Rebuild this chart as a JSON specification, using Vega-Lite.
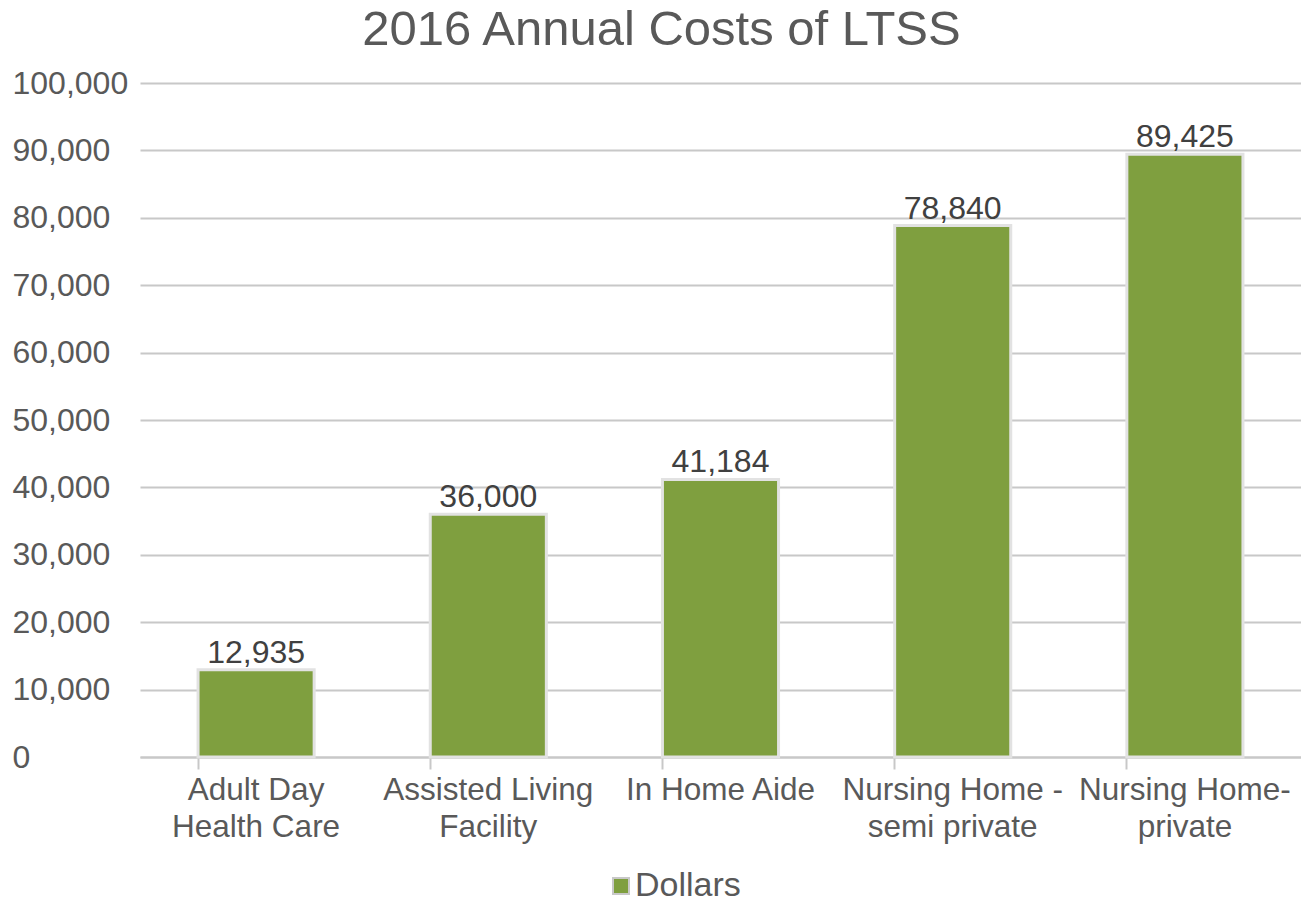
{
  "$schema": "https://vega.github.io/schema/vega-lite/v6.json",
  "width": 1161,
  "height": 674,
  "autosize": {"type": "none"},
  "padding": {"left": 140, "top": 83, "right": 0, "bottom": 146},
  "background": "white",
  "config": {
    "font": "Liberation Sans",
    "view": {"stroke": null}
  },
  "title": {
    "text": "2016 Annual Costs of LTSS",
    "fontSize": 49,
    "fontWeight": "normal",
    "color": "#595959",
    "anchor": "middle",
    "dx": -59,
    "offset": 12
  },
  "data": {
    "values": [
      {"category": "Adult Day Health Care", "series": "Dollars", "dollars": 12935},
      {"category": "Assisted Living Facility", "series": "Dollars", "dollars": 36000},
      {"category": "In Home Aide", "series": "Dollars", "dollars": 41184},
      {"category": "Nursing Home - semi private", "series": "Dollars", "dollars": 78840},
      {"category": "Nursing Home- private", "series": "Dollars", "dollars": 89425}
    ]
  },
  "encoding": {
    "x": {
      "field": "category",
      "type": "nominal",
      "sort": null,
      "scale": {"paddingInner": 0.5, "paddingOuter": 0.25},
      "axis": {
        "title": null,
        "labelAngle": 0,
        "labelFontSize": 31.5,
        "labelColor": "#595959",
        "labelPadding": 5,
        "labelLineHeight": 37,
        "labelLimit": 0,
        "labelOverlap": false,
        "labelBound": false,
        "labelExpr": "datum.label == 'Adult Day Health Care' ? ['Adult Day','Health Care'] : datum.label == 'Assisted Living Facility' ? ['Assisted Living','Facility'] : datum.label == 'Nursing Home - semi private' ? ['Nursing Home -','semi private'] : datum.label == 'Nursing Home- private' ? ['Nursing Home-','private'] : datum.label",
        "bandPosition": 0,
        "ticks": true,
        "tickSize": 12,
        "tickColor": "#c8c8c8",
        "tickWidth": 2,
        "domainColor": "#c8c8c8",
        "domainWidth": 2,
        "grid": false
      }
    },
    "y": {
      "field": "dollars",
      "type": "quantitative",
      "scale": {"domain": [0, 100000]},
      "axis": {
        "title": null,
        "values": [0, 10000, 20000, 30000, 40000, 50000, 60000, 70000, 80000, 90000, 100000],
        "format": ",d",
        "labelFontSize": 32,
        "labelColor": "#595959",
        "labelAlign": "left",
        "labelPadding": 128,
        "labelOverlap": false,
        "labelBound": false,
        "labelFlush": false,
        "ticks": false,
        "domain": false,
        "grid": true,
        "gridColor": "#c8c8c8",
        "gridWidth": 2
      }
    }
  },
  "layer": [
    {
      "mark": {"type": "bar", "stroke": "#e2e2e2", "strokeWidth": 3},
      "encoding": {
        "color": {
          "field": "series",
          "type": "nominal",
          "scale": {"range": ["#7f9f3f"]},
          "legend": {
            "title": null,
            "orient": "none",
            "legendX": 464,
            "legendY": 786,
            "symbolType": "square",
            "symbolSize": 256,
            "symbolStrokeColor": "#c8c8c8",
            "symbolStrokeWidth": 2,
            "labelFontSize": 34,
            "labelColor": "#595959",
            "labelOffset": -3
          }
        }
      }
    },
    {
      "mark": {"type": "text", "baseline": "bottom", "dy": 0, "fontSize": 32, "color": "#404040"},
      "encoding": {
        "text": {"field": "dollars", "type": "quantitative", "format": ",d"}
      }
    }
  ]
}
